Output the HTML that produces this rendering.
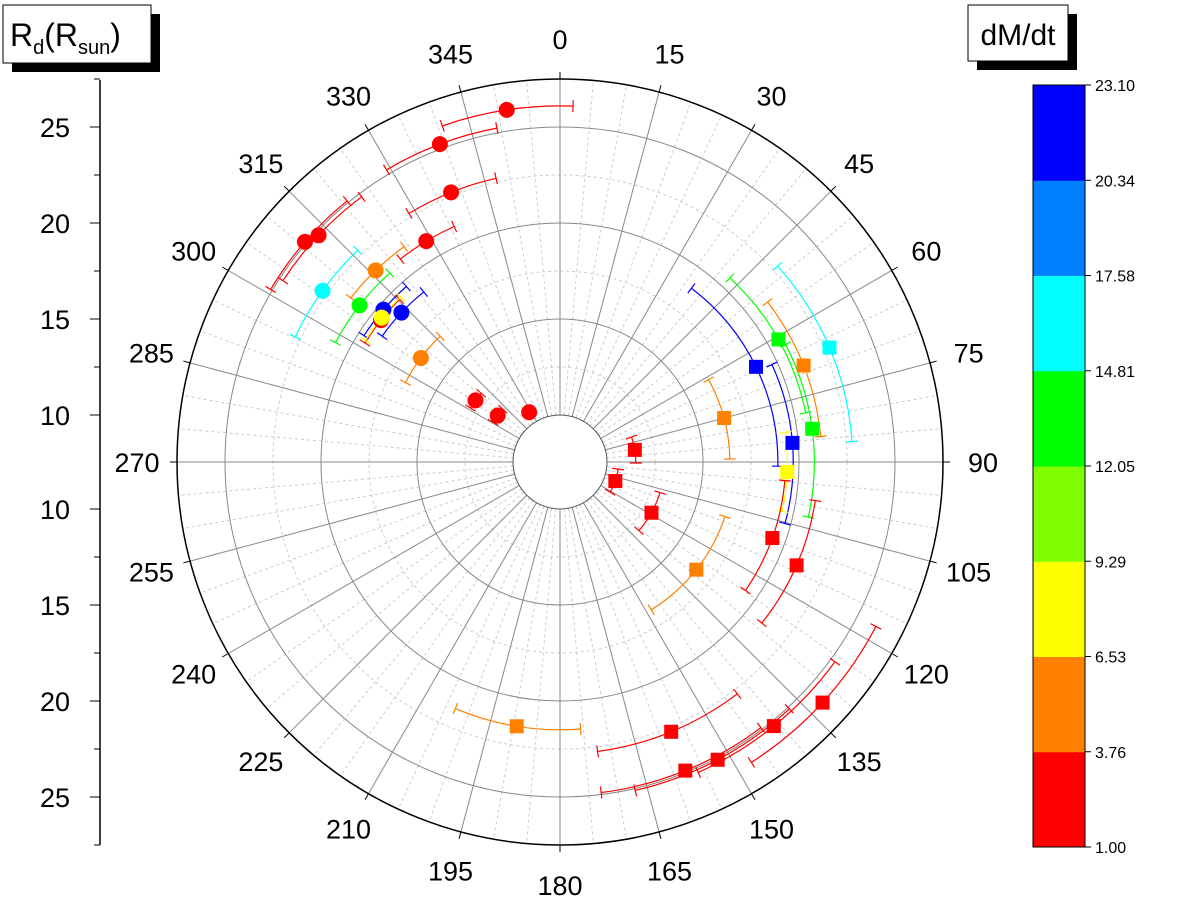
<!DOCTYPE html>
<html><head><meta charset="utf-8">
<style>
body{margin:0;background:#fff;}
svg{display:block;font-family:"Liberation Sans",sans-serif;}
</style></head>
<body>
<svg id="chart" width="1200" height="900" viewBox="0 0 1200 900">
<g id="grid"></g>
<g id="marks"></g>
<g id="raxis"></g>
<g id="cbar"></g>
<g>
<rect x="12" y="14" width="148" height="58" fill="#000"/>
<rect x="3" y="5" width="148" height="58" fill="#fff" stroke="#000"/>
<text x="10" y="46" font-size="32">R<tspan font-size="20" dy="8">d</tspan><tspan dy="-8">(R</tspan><tspan font-size="20" dy="8">sun</tspan><tspan dy="-8">)</tspan></text>
</g>
<g>
<rect x="977" y="14" width="100" height="56" fill="#000"/>
<rect x="968" y="5" width="100" height="56" fill="#fff" stroke="#000"/>
<text x="1018" y="45" font-size="30" text-anchor="middle">dM/dt</text>
</g>
</svg>
<script>
// ---- data ----
const circTheta=[351.4,339.3,338,328.8,310.8,313.2,305.8,316.1,308,310.8,313.3,308.4,309,306.8,306.1,306.7,328.2];
const circR=[26.1,25.25,22.7,21.0,25.1,24.8,22.8,21.4,20.8,19.7,18.9,19.45,19.5,16.6,13.0,11.6,10.6];
const circErr=[10.7,10,9.3,7,10,10,10.5,8,10,8,8,7,7,9.6,5,6,5];
const circVal=[2,2,2,2,2,2,16,5,13,22,22,2,8,5,2,2,2];
const sqTheta=[67.0,60.7,64.1,68.4,82.5,85.3,92.5,75,80.8,109,119,109.7,113.6,128.3,132.5,141.0,152.1,157.9,157.6,189.3];
const sqR=[22.8,20.6,18.9,21.2,20.8,19.7,19.4,16.4,11.5,10.6,13.0,19.3,21.0,16.6,26.1,25.25,25.1,24.9,22.75,21.5];
const sqErr=[19,18,27,16,20,20,10,14,10,12,12,15,15,20,15,15,15,15,15,13.7];
const sqVal=[16,13,22,5,13,22,8,5,2,2,2,2,2,5,2,2,2,2,2,5];
const cbTicks=["1.00","3.76","6.53","9.29","12.05","14.81","17.58","20.34","23.10"];
const cbBins=[1,3.76,6.53,9.29,12.05,14.81,17.58,20.34,23.10];
const cbColors=["#ff0000","#ff8000","#ffff00","#80ff00","#00ff00","#00ffff","#0080ff","#0000ff"];
const rTicks=[10,15,20,25];
const angTicks=[0,15,30,45,60,75,90,105,120,135,150,165,180,195,210,225,240,255,270,285,300,315,330,345];

// ---- scales ----
const CX=560,CY=462,R0=47,PX=19.2,ROUT=383;
function rs(r){return R0+(r-10)*PX;}
function pt(th,rp){const a=th*Math.PI/180;return [CX+rp*Math.sin(a),CY-rp*Math.cos(a)];}
function color(v){for(let i=0;i<cbColors.length;i++){if(v<cbBins[i+1])return cbColors[i];}return cbColors[cbColors.length-1];}
const NS="http://www.w3.org/2000/svg";
function mk(tag,attrs,parent){const e=document.createElementNS(NS,tag);for(const k in attrs)e.setAttribute(k,attrs[k]);parent.appendChild(e);return e;}

// ---- grid ----
const g=document.getElementById('grid');
for(let a=0;a<360;a+=5){
  if(a%15===0)continue;
  const p1=pt(a,R0),p2=pt(a,ROUT);
  const l=mk('line',{x1:p1[0],y1:p1[1],x2:p2[0],y2:p2[1],stroke:'#ccc','stroke-width':1,'stroke-dasharray':'3,3'},g);
  
  
}
[12.5,17.5,22.5].forEach(r=>{
  const c=mk('circle',{cx:CX,cy:CY,r:rs(r),fill:'none',stroke:'#ccc','stroke-dasharray':'3,3'},g);
  
  
});
angTicks.forEach(a=>{
  const p1=pt(a,R0),p2=pt(a,ROUT);
  const l=mk('line',{x1:p1[0],y1:p1[1],x2:p2[0],y2:p2[1],stroke:'#888','stroke-width':1},g);
  
  
  const tp=pt(a,ROUT+40);
  const t=mk('text',{x:tp[0],y:tp[1]+10,'font-size':27,'text-anchor':'middle'},g);
  t.textContent=a;
  
  
  const k1=pt(a,ROUT),k2=pt(a,ROUT+7);
  mk('line',{x1:k1[0],y1:k1[1],x2:k2[0],y2:k2[1],stroke:'#000'},g);
});
[15,20,25].forEach(r=>{
  const c=mk('circle',{cx:CX,cy:CY,r:rs(r),fill:'none',stroke:'#888'},g);
  
  
});
let c0=mk('circle',{cx:CX,cy:CY,r:R0,fill:'none',stroke:'#555'},g);


let c1=mk('circle',{cx:CX,cy:CY,r:ROUT,fill:'none',stroke:'#000','stroke-width':1.5},g);



// ---- marks ----
const m=document.getElementById('marks');
function errArc(th,r,err,col){
  const rp=rs(r);const a=pt(th-err,rp),b=pt(th+err,rp);
  const large=(2*err>180)?1:0;
  const p=mk('path',{d:`M${a[0]},${a[1]} A${rp},${rp} 0 ${large} 1 ${b[0]},${b[1]}`,fill:'none',stroke:col,'stroke-width':1.2},m);
  
  
  [th-err,th+err].forEach(t=>{const q1=pt(t,rp-6),q2=pt(t,rp+6);mk('line',{x1:q1[0],y1:q1[1],x2:q2[0],y2:q2[1],stroke:col,'stroke-width':1.2},m);});
}
circTheta.forEach((th,i)=>errArc(th,circR[i],circErr[i],color(circVal[i])));
sqTheta.forEach((th,i)=>errArc(th,sqR[i],sqErr[i],color(sqVal[i])));
circTheta.forEach((th,i)=>{
  const p=pt(th,rs(circR[i]));
  const c=mk('circle',{cx:p[0],cy:p[1],r:8,fill:color(circVal[i])},m);
  
  
});
sqTheta.forEach((th,i)=>{
  const p=pt(th,rs(sqR[i]));
  const s=mk('rect',{x:p[0]-7,y:p[1]-7,width:14,height:14,fill:color(sqVal[i])},m);
  
  
});

// ---- radial axis ----
const ra=document.getElementById('raxis');
mk('line',{x1:100,y1:80,x2:100,y2:845,stroke:'#000','stroke-width':1.5},ra);
for(let r=10;r<=27.5;r+=2.5){
  [-1,1].forEach(s=>{const y=CY+s*rs(r);const major=r%5===0;mk('line',{x1:100,y1:y,x2:major?90:94,y2:y,stroke:'#000'},ra);});
}
rTicks.forEach(r=>{
  [-1,1].forEach(s=>{
    const t=mk('text',{x:70,y:CY+s*rs(r)+10,'font-size':27,'text-anchor':'end'},ra);
    t.textContent=r;
    
    
  });
});

// ---- color bar ----
const cb=document.getElementById('cbar');
const CBX=1033,CBW=52,CBT=85,CBB=847;
const bh=(CBB-CBT)/cbColors.length;
cbColors.forEach((c,i)=>{
  const r=mk('rect',{x:CBX,y:CBB-(i+1)*bh,width:CBW,height:bh+0.5,fill:c},cb);
  
  
});
mk('rect',{x:CBX,y:CBT,width:CBW,height:CBB-CBT,fill:'none',stroke:'#000'},cb);
cbTicks.forEach((t,i)=>{
  const y=CBB-i*bh;
  mk('line',{x1:CBX+CBW,y1:y,x2:CBX+CBW+6,y2:y,stroke:'#000'},cb);
  const tx=mk('text',{x:CBX+CBW+10,y:y+6,'font-size':16},cb);
  tx.textContent=t;
  
  
});
</script>
</body></html>
